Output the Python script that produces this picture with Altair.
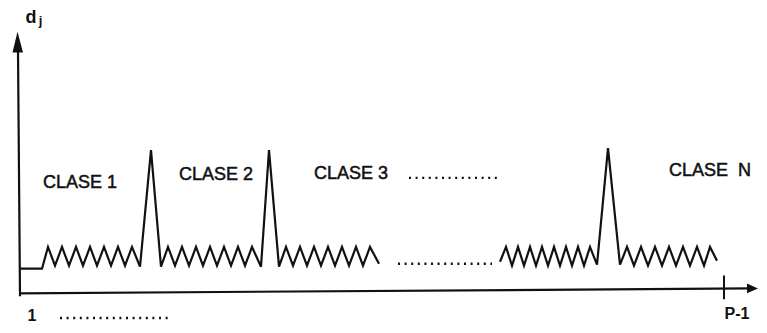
import altair as alt
import pandas as pd

# ---- values (x: position along the axis, y: height d_j above the origin) ----
# classes 1-3: flat start, saw-tooth noise, one peak between classes
seg1_x = [19, 42, 48, 55, 62, 69, 76, 83, 90, 97, 104, 111, 118, 125, 132, 140, 151, 161,
          168, 175, 182, 189, 196, 203, 210, 217, 224, 231, 238, 245, 252, 261, 269, 279,
          286, 293, 300, 307, 314, 321, 328, 335, 342, 349, 356, 363, 370, 379]
seg1_y = [28, 28, 50, 31, 50, 31, 50, 31, 50, 31, 50, 31, 50, 31, 50, 30, 148, 30,
          50, 31, 50, 31, 50, 31, 50, 31, 50, 31, 50, 31, 50, 30, 148, 30,
          50, 31, 50, 31, 50, 31, 50, 31, 50, 31, 50, 31, 50, 33]
# class N-1 / N
segN_x = [500, 506, 512, 518, 524, 530, 536, 542, 548, 554, 560, 566, 572, 578, 584, 590,
          597, 608, 620, 627, 634, 641, 648, 655, 662, 669, 676, 683, 690, 697, 704, 710, 717]
segN_y = [35, 50, 31, 50, 31, 50, 31, 50, 31, 50, 31, 50, 31, 50, 31, 50,
          32, 150, 32, 50, 31, 50, 31, 50, 31, 50, 31, 50, 31, 50, 31, 50, 36]

# axes (drawn as lines with arrow heads)
yaxis_x = [20, 18]
yaxis_y = [0, 248]
xaxis_x = [19, 750]
xaxis_y = [3, 8]
yhead_x = [12.5, 17.5, 23]
yhead_y = [247, 268, 247]
yhead_y2 = [247, 247, 247]
xhead_x = [747, 758]
xhead_y = [13, 8]
xhead_y2 = [3, 8]
tick_x = [724]
tick_y = [21]
tick_y2 = [-3]

# dotted ellipsis lines
dot_x = [409, 398, 60]
dot_x2 = [501, 492, 168]
dot_y = [120, 33, -22]

# labels
lab_text = ["CLASE 1", "CLASE 2", "CLASE 3", "CLASE\u00a0\u00a0N"]
lab_x = [43, 179, 314, 669]
lab_y = [115, 122.5, 124, 127]
ax_text = ["d", "j", "1", "P-1"]
ax_x = [31, 40.5, 32, 737]
ax_y = [277, 275, -25.5, -23]
ax_size = [18, 13, 16, 16]

INK = "#111111"
FONT = "Liberation Sans"

X = alt.Scale(domain=[8, 759], nice=False, zero=False)
Y = alt.Scale(domain=[-25, 292], nice=False, zero=False)

sig = pd.DataFrame({
    "x": seg1_x + segN_x,
    "y": seg1_y + segN_y,
    "seg": ["a"] * len(seg1_x) + ["n"] * len(segN_x),
    "o": list(range(len(seg1_x))) + list(range(len(segN_x))),
})
axes = pd.DataFrame({
    "x": yaxis_x + xaxis_x,
    "y": yaxis_y + xaxis_y,
    "seg": ["y", "y", "x", "x"],
    "o": [0, 1, 0, 1],
})
yhead = pd.DataFrame({"x": yhead_x, "y": yhead_y, "y2": yhead_y2})
xhead = pd.DataFrame({"x": xhead_x, "y": xhead_y, "y2": xhead_y2})
tick = pd.DataFrame({"x": tick_x, "y": tick_y, "y2": tick_y2})
dots = pd.DataFrame({"x": dot_x, "x2": dot_x2, "y": dot_y})
labs = pd.DataFrame({"t": lab_text, "x": lab_x, "y": lab_y})
axl = pd.DataFrame({"t": ax_text, "x": ax_x, "y": ax_y, "s": ax_size})

signal = alt.Chart(sig).mark_line(color=INK, strokeWidth=2.2, strokeJoin="miter").encode(
    x=alt.X("x:Q", scale=X, axis=None),
    y=alt.Y("y:Q", scale=Y, axis=None),
    detail="seg:N",
    order="o:Q",
)
axis_lines = alt.Chart(axes).mark_line(color=INK, strokeWidth=2.2).encode(
    x=alt.X("x:Q", scale=X, axis=None),
    y=alt.Y("y:Q", scale=Y, axis=None),
    detail="seg:N",
    order="o:Q",
)
yarrow = alt.Chart(yhead).mark_area(color=INK, opacity=1).encode(
    x=alt.X("x:Q", scale=X, axis=None),
    y=alt.Y("y:Q", scale=Y, axis=None),
    y2="y2:Q",
)
xarrow = alt.Chart(xhead).mark_area(color=INK, opacity=1).encode(
    x=alt.X("x:Q", scale=X, axis=None),
    y=alt.Y("y:Q", scale=Y, axis=None),
    y2="y2:Q",
)
ticks = alt.Chart(tick).mark_rule(color=INK, strokeWidth=2).encode(
    x=alt.X("x:Q", scale=X, axis=None),
    y=alt.Y("y:Q", scale=Y, axis=None),
    y2="y2:Q",
)
dotted = alt.Chart(dots).mark_rule(color=INK, strokeWidth=2.4, strokeDash=[2, 4.6]).encode(
    x=alt.X("x:Q", scale=X, axis=None),
    x2="x2:Q",
    y=alt.Y("y:Q", scale=Y, axis=None),
)
labels = alt.Chart(labs).mark_text(
    align="left", baseline="middle", font=FONT, fontSize=18, color=INK,
    stroke=INK, strokeWidth=0.5,
).encode(
    x=alt.X("x:Q", scale=X, axis=None),
    y=alt.Y("y:Q", scale=Y, axis=None),
    text="t:N",
)
axis_labels = alt.Chart(axl).mark_text(
    align="center", baseline="alphabetic", font=FONT, fontWeight="bold", color=INK
).encode(
    x=alt.X("x:Q", scale=X, axis=None),
    y=alt.Y("y:Q", scale=Y, axis=None),
    text="t:N",
    size=alt.Size("s:Q", scale=None, legend=None),
)

chart = alt.layer(
    axis_lines, yarrow, xarrow, ticks, signal, dotted, labels, axis_labels
).properties(
    width=751, height=317,
    autosize=alt.AutoSizeParams(type="fit", contains="padding"),
    padding=0,
    background="white",
).configure_view(stroke=None)

chart.save("out.html", embed_options={"renderer": "svg", "actions": False})
